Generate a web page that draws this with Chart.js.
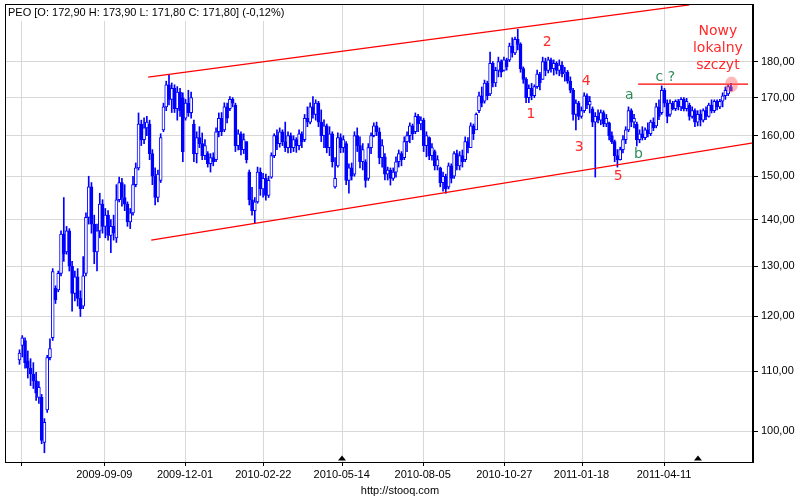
<!DOCTYPE html>
<html>
<head>
<meta charset="utf-8">
<title>PEO</title>
<script src="https://cdn.jsdelivr.net/npm/chart.js@4.4.1/dist/chart.umd.min.js"></script>
<style>
    html, body { margin: 0; padding: 0; background: #fff; }
    canvas { display: block; }
</style>
</head>
<body>
<canvas id="peoChart" width="800" height="500"></canvas>
<script>
// Notowania PEO - swiece (co 2 sesje)
const openPrices = [
    112.0,114.6,115.5,111.8,110.5,109.5,108.3,105.5,105.5,98.2,
    103.4,112.4,116.0,125.5,125.2,128.5,136.8,133.0,137.5,130.0,
    124.5,127.8,123.5,122.0,128.5,140.5,147.5,139.0,133.0,137.5,
    143.5,138.5,141.0,136.5,138.5,136.0,144.5,148.5,145.0,143.5,
    139.5,141.5,148.0,152.0,163.0,159.0,162.0,163.0,155.5,150.0,
    145.0,149.0,161.5,167.5,173.5,169.5,172.5,167.0,171.5,170.0,
    164.5,168.5,166.0,163.0,155.5,159.5,158.0,155.0,155.5,153.0,
    154.5,154.0,161.0,164.5,161.5,167.5,167.0,169.5,168.0,157.5,
    160.5,156.5,158.5,151.0,144.5,142.0,144.0,151.0,147.0,149.5,
    145.5,149.8,155.0,160.0,158.0,161.0,158.5,157.0,160.0,157.0,
    159.0,157.5,160.5,159.0,164.5,163.5,167.5,165.5,168.5,163.5,
    160.0,162.5,157.0,160.5,147.5,152.5,159.5,157.0,158.0,149.0,
    152.0,150.5,160.0,157.5,153.5,153.5,149.5,157.0,160.0,162.5,
    161.0,154.5,154.7,150.5,151.5,149.5,151.0,153.5,155.5,154.5,
    158.5,160.0,162.5,161.0,165.0,163.0,164.0,157.5,159.5,155.0,
    156.0,152.5,152.0,148.5,150.0,147.5,152.5,150.0,155.5,152.5,
    155.0,154.0,158.5,157.0,162.5,161.5,166.5,170.5,169.0,174.0,
    171.0,179.5,174.0,177.5,180.0,177.5,180.5,180.5,184.5,182.5,
    186.5,185.0,178.0,175.0,170.0,172.5,170.5,173.0,176.5,175.0,
    180.0,177.5,180.5,178.0,179.5,177.5,179.0,176.5,177.0,174.5,
    172.0,165.5,168.5,165.0,166.5,170.5,168.0,167.0,163.5,165.0,
    164.0,166.0,163.0,163.3,160.0,158.5,155.0,154.0,156.5,159.0,
    161.5,166.5,163.5,163.0,159.0,160.5,159.5,161.5,160.5,163.5,
    162.5,167.5,166.0,172.0,168.5,165.5,168.5,167.0,169.0,167.5,
    169.5,167.0,168.0,165.0,166.5,163.5,165.5,164.0,166.5,165.0,
    168.0,166.5,169.0,167.5,169.0,170.5,171.0,172.9
];
const highPrices = [
    113.8,116.4,116.0,113.6,112.2,111.5,109.8,108.2,106.0,102.0,
    112.8,115.8,129.5,126.0,129.0,137.5,145.0,138.5,138.0,131.0,
    129.0,129.5,125.0,132.0,141.5,150.0,148.5,141.0,139.0,146.0,
    144.5,142.5,142.0,140.0,141.0,148.0,149.8,149.5,148.0,144.0,
    142.5,150.0,153.2,165.9,164.0,164.6,165.0,164.0,156.5,152.0,
    151.5,160.5,168.5,174.5,176.2,174.0,173.5,173.0,172.5,171.3,
    169.5,172.0,171.5,164.0,161.0,162.3,160.7,159.0,156.0,155.5,
    155.7,162.0,165.9,166.0,168.6,168.5,170.3,170.0,168.5,161.5,
    161.0,160.5,158.5,151.5,147.4,145.0,152.2,152.0,150.7,150.5,
    150.0,155.7,160.5,161.5,162.0,161.5,163.5,161.0,160.7,160.0,
    159.5,161.5,161.0,165.5,167.5,168.6,170.3,169.4,169.0,166.7,
    164.1,163.0,162.3,161.0,154.5,160.7,160.5,160.0,158.5,153.0,
    153.2,161.0,162.0,159.7,158.0,154.0,158.0,160.7,163.3,163.5,
    162.0,159.0,155.5,152.2,152.0,152.0,154.7,156.4,156.0,159.7,
    161.0,163.3,163.0,165.9,165.5,164.9,164.5,161.0,159.7,158.0,
    156.4,155.0,152.2,151.0,150.5,153.2,153.0,156.0,156.4,156.0,
    156.4,159.7,159.5,163.3,163.0,165.9,171.5,172.9,174.8,174.5,
    182.8,180.0,178.4,181.3,180.5,181.3,181.0,185.4,187.0,187.2,
    189.5,185.5,178.5,175.5,173.5,173.9,173.5,177.6,177.0,181.3,
    181.0,181.3,181.0,180.5,180.0,180.5,180.0,178.4,177.5,175.7,
    172.5,169.4,169.0,167.5,171.3,171.0,170.3,167.5,166.0,166.7,
    166.7,166.5,165.5,163.5,161.0,158.9,156.5,157.1,160.0,162.3,
    167.5,167.0,165.5,163.5,161.5,162.3,162.0,163.3,164.0,164.6,
    168.5,169.4,173.2,172.5,169.4,169.4,169.0,169.4,169.5,170.0,
    170.0,169.8,168.5,167.5,167.0,166.5,166.7,167.0,167.5,168.5,
    169.4,169.4,169.4,169.5,171.3,172.9,173.5,173.9
];
const lowPrices = [
    111.2,112.5,110.5,108.8,107.5,107.0,105.0,104.5,98.0,96.6,
    103.0,112.0,115.5,122.5,124.8,128.0,131.0,132.5,129.0,121.0,
    123.0,122.0,120.0,121.5,128.0,139.0,137.0,130.5,129.0,136.0,
    137.0,136.0,135.5,132.8,135.5,135.0,144.0,143.0,142.0,138.5,
    138.0,141.0,147.5,151.5,157.5,158.0,160.0,154.0,148.0,143.3,
    144.0,148.5,161.0,166.5,168.0,166.0,166.0,164.0,165.0,153.5,
    164.0,165.0,164.5,153.5,153.2,157.0,154.0,154.0,152.2,151.0,
    152.5,153.5,159.7,160.0,161.0,163.3,166.5,167.5,156.0,156.4,
    155.2,155.5,153.2,143.3,141.0,139.2,143.7,145.5,145.1,144.4,
    145.0,149.5,154.5,156.5,157.1,157.5,156.0,155.7,155.7,156.0,
    155.8,156.4,157.0,158.5,162.3,163.0,164.5,164.0,162.3,158.5,
    157.0,155.7,155.0,152.2,147.2,152.2,155.7,155.8,148.0,146.0,
    149.1,150.0,156.0,152.0,151.5,147.4,149.0,155.5,159.7,160.0,
    153.0,152.2,149.1,149.1,147.9,149.0,149.8,152.2,152.5,154.0,
    156.0,158.2,159.0,160.5,161.0,161.5,156.0,154.7,154.0,153.9,
    151.5,151.5,147.5,146.5,146.0,147.0,148.4,149.5,151.5,151.5,
    152.2,153.5,155.7,157.0,159.0,161.5,166.0,167.5,168.5,169.4,
    170.5,172.9,173.0,175.7,175.7,177.3,177.6,180.0,181.3,182.0,
    183.4,177.0,173.9,168.6,168.6,169.4,170.0,172.5,172.1,175.0,
    176.0,176.8,177.0,176.2,176.5,176.0,175.7,174.5,173.9,171.3,
    164.0,161.5,164.1,164.5,166.0,167.0,165.9,162.3,149.8,163.3,
    162.8,162.3,162.3,158.9,158.0,153.5,152.2,153.9,155.7,158.0,
    161.0,162.3,162.0,157.4,158.2,158.9,159.0,159.7,160.0,161.3,
    162.0,164.1,165.5,167.5,163.3,165.0,166.7,166.5,166.7,166.5,
    166.4,166.4,164.0,164.5,162.3,162.5,162.5,163.5,164.1,164.8,
    165.9,166.0,166.7,167.0,167.5,169.5,170.5,171.8
];
const closePrices = [
    113.2,116.0,111.5,110.5,109.5,108.3,106.2,107.2,98.5,101.4,
    112.4,114.0,128.9,123.2,128.5,136.8,132.5,137.5,130.0,124.5,
    127.8,123.5,121.5,128.0,140.5,147.5,139.0,133.0,137.5,143.5,
    138.5,141.0,136.5,138.5,137.0,144.5,148.5,145.0,143.5,139.5,
    141.5,148.0,152.0,163.0,159.0,162.0,163.5,155.5,150.0,145.0,
    150.5,159.5,167.5,173.5,169.5,172.5,167.0,171.5,166.5,156.0,
    168.5,166.0,170.0,155.5,159.5,158.0,155.0,157.5,153.0,154.5,
    153.5,161.0,164.5,161.0,167.5,164.5,169.5,168.5,157.5,160.5,
    156.5,159.0,154.0,144.5,142.0,144.0,151.0,147.0,149.5,145.5,
    149.0,155.0,160.0,158.0,161.0,158.5,157.0,160.0,157.0,159.0,
    157.5,160.5,158.5,164.5,163.5,167.5,165.5,168.5,163.5,160.0,
    162.5,157.0,160.5,153.5,149.5,159.5,157.0,159.0,149.0,152.0,
    150.0,160.0,157.5,153.5,156.5,149.0,157.0,160.0,162.5,161.0,
    154.5,157.5,150.5,151.5,149.5,151.0,153.5,155.5,154.0,158.5,
    160.0,162.5,160.5,165.0,163.0,164.0,157.5,160.0,155.0,157.0,
    152.5,154.0,148.5,150.0,147.0,152.5,149.5,155.5,152.5,155.0,
    153.5,158.5,157.0,162.5,160.5,165.5,170.5,168.5,174.0,170.5,
    179.5,174.0,177.5,180.0,177.0,180.5,178.5,184.5,182.5,186.5,
    185.0,178.0,175.0,170.0,172.5,170.5,173.0,176.5,174.0,180.0,
    177.5,180.5,178.0,179.5,177.5,179.0,176.5,177.0,174.5,172.0,
    165.5,168.5,165.0,166.5,170.5,168.0,169.0,163.5,165.0,164.0,
    166.0,163.0,164.5,160.0,158.5,155.0,154.0,156.5,159.0,161.5,
    166.5,163.5,164.5,159.0,160.5,159.5,161.5,160.5,163.5,162.0,
    167.5,165.0,172.0,168.5,165.0,168.5,167.0,169.0,167.5,169.5,
    167.0,169.0,165.0,166.5,163.5,165.5,164.0,166.5,165.0,168.0,
    166.5,169.0,167.5,169.0,170.5,172.0,173.0,171.8
];

// Os X: pozycje (w swiecach) i daty
const dateTickPos = [0.65, 30.64, 59.79, 88.08, 116.4, 145.66, 175.14, 203.03, 232.84];
const dateTickLabels = ['', '2009-09-09', '2009-12-01', '2010-02-22', '2010-05-14', '2010-08-05', '2010-10-27', '2011-01-18', '2011-04-11'];

// Os Y (logarytmiczna)
const priceTicks = [100, 110, 120, 130, 140, 150, 160, 170, 180];

// Linie kanalu i opor [swieca, cena]
const upperLine = [[46.5, 175.6], [242.0, 197.0]];
const lowerLine = [[47.6, 135.5], [265.0, 158.2]];
const peakLine = [[223.5, 173.7], [263.2, 173.7]];

// Oznaczenia fal
const waveTexts = ['1', '2', '3', '4', '5', 'a', 'b', 'c ?'];
const waveX = [184.8, 190.6, 202.2, 204.7, 216.3, 220.3, 223.6, 233.3];
const waveY = [165.4, 185.6, 157.0, 174.4, 149.9, 170.6, 155.2, 175.7];

// Dywidendy (trojkaty przy osi)
const dividendPos = [116.5, 245.1];

const titleText = 'PEO [O: 172,90 H: 173,90 L: 171,80 C: 171,80] (-0,12%)';
const noteLines = ['Nowy', 'lokalny', 'szczyt'];

const BLUE = '#0000ff';
const RED = '#ff2a2a';
const GREEN = '#2e8b57';
const GRID = '#d8d8d8';
const FONT = "'Liberation Sans', Arial, sans-serif";

const indexes = closePrices.map((_, i) => i);

const annotationsPlugin = {
    id: 'annotations',
    afterDatasetsDraw(chart) {
        const ctx = chart.ctx;
        const xs = chart.scales.x;
        const ys = chart.scales.y;
        const area = chart.chartArea;
        const px = v => xs.getPixelForValue(v);
        const py = v => ys.getPixelForValue(v);

        ctx.save();
        ctx.beginPath();
        ctx.rect(area.left, area.top, area.right - area.left, area.bottom - area.top);
        ctx.clip();

        // linie trendu
        ctx.strokeStyle = '#ff0000';
        ctx.lineWidth = 1.3;
        [upperLine, lowerLine, peakLine].forEach(line => {
            ctx.beginPath();
            ctx.moveTo(px(line[0][0]), py(line[0][1]));
            ctx.lineTo(px(line[1][0]), py(line[1][1]));
            ctx.stroke();
        });

        // nowy szczyt - kolko
        const last = closePrices.length - 1;
        ctx.fillStyle = 'rgba(255, 100, 100, 0.45)';
        ctx.beginPath();
        ctx.ellipse(px(last + 0.2), py(173.6), 6.5, 8, 0, 0, Math.PI * 2);
        ctx.fill();

        // fale
        ctx.font = "14px 'DejaVu Sans', sans-serif";
        ctx.textAlign = 'center';
        ctx.textBaseline = 'middle';
        waveTexts.forEach((t, i) => {
            ctx.fillStyle = i < 5 ? RED : GREEN;
            ctx.fillText(t, px(waveX[i]), py(waveY[i]));
        });

        ctx.fillStyle = RED;
        const noteTop = py(189.0);
        noteLines.forEach((t, i) => {
            ctx.fillText(t, px(252.3), noteTop + i * 17);
        });
        ctx.restore();
    },
    afterDraw(chart) {
        const ctx = chart.ctx;
        const xs = chart.scales.x;
        const area = chart.chartArea;
        const top = Math.round(area.top);
        const bottom = Math.round(area.bottom);

        ctx.save();
        // pionowa siatka (pod swiecami) i znaczniki osi X
        dateTickPos.forEach(v => {
            const x = Math.round(xs.getPixelForValue(v));
            ctx.globalCompositeOperation = 'destination-over';
            ctx.fillStyle = GRID;
            ctx.fillRect(x, top + 1, 1, bottom - top - 1);
            ctx.globalCompositeOperation = 'source-over';
            ctx.fillStyle = '#000';
            ctx.fillRect(x, bottom, 1, 4);
        });
        ctx.globalCompositeOperation = 'source-over';

        // ramka
        ctx.strokeStyle = '#000';
        ctx.lineWidth = 1;
        ctx.strokeRect(Math.round(area.left) + 0.5, top + 0.5,
            Math.round(area.right - area.left) - 1, bottom - top);

        // tytul
        ctx.font = '11px ' + FONT;
        const w = ctx.measureText(titleText).width;
        ctx.fillStyle = '#fff';
        ctx.fillRect(area.left + 1, top + 1, w + 6, 16);
        ctx.fillStyle = '#000';
        ctx.textAlign = 'left';
        ctx.textBaseline = 'middle';
        ctx.fillText(titleText, area.left + 3, top + 9);

        // dywidendy
        dividendPos.forEach(d => {
            const x = xs.getPixelForValue(d);
            ctx.beginPath();
            ctx.moveTo(x - 4, bottom - 1.5);
            ctx.lineTo(x + 4, bottom - 1.5);
            ctx.lineTo(x, bottom - 6.5);
            ctx.closePath();
            ctx.fill();
        });

        // stopka
        ctx.textAlign = 'center';
        ctx.fillText('http://stooq.com', 400, 491);
        ctx.restore();
    }
};

// bez dodatkowych marginesow od etykiet skrajnych
function fixPadding(s) {
    s.paddingTop = 0;
    s.paddingBottom = 0;
    s.paddingLeft = 0;
    s.paddingRight = 0;
}

const ctx = document.getElementById('peoChart').getContext('2d');
new Chart(ctx, {
    type: 'bar',
    data: {
        datasets: [
            {
                // korpusy swiec
                data: indexes.map(i => ({ x: i, y: [openPrices[i], closePrices[i]] })),
                backgroundColor: c => closePrices[c.dataIndex] >= openPrices[c.dataIndex] ? '#ffffff' : BLUE,
                borderColor: BLUE,
                borderWidth: 1,
                borderSkipped: false,
                barThickness: 3,
                grouped: false,
                order: 1
            },
            {
                // knoty
                data: indexes.map(i => ({ x: i, y: [lowPrices[i], highPrices[i]] })),
                backgroundColor: BLUE,
                borderWidth: 0,
                barThickness: 1,
                grouped: false,
                order: 2
            }
        ]
    },
    options: {
        responsive: false,
        animation: false,
        layout: { padding: { left: 5, top: 4, right: 0, bottom: 0 } },
        plugins: {
            legend: { display: false },
            tooltip: { enabled: false }
        },
        scales: {
            x: {
                type: 'linear',
                min: -5.24,
                max: 264.98,
                offset: false,
                grid: { display: false, tickLength: 4 },
                border: { color: '#000' },
                ticks: {
                    color: '#000',
                    font: { family: FONT, size: 11 },
                    maxRotation: 0,
                    autoSkip: false,
                    padding: 2,
                    callback: (v, i) => dateTickLabels[i]
                },
                afterBuildTicks: s => { s.ticks = dateTickPos.map(v => ({ value: v })); },
                afterFit: s => { s.height = 38; fixPadding(s); }
            },
            y: {
                type: 'logarithmic',
                position: 'right',
                min: 95.19,
                max: 197.3,
                grid: { color: GRID, tickColor: '#000', tickLength: 5 },
                border: { color: '#000' },
                ticks: {
                    color: '#000',
                    font: { family: FONT, size: 11 },
                    padding: 3,
                    callback: v => v.toFixed(2).replace('.', ',')
                },
                afterBuildTicks: s => { s.ticks = priceTicks.map(v => ({ value: v })); },
                afterFit: s => { s.width = 47; fixPadding(s); }
            }
        }
    },
    plugins: [annotationsPlugin]
});
</script>
</body>
</html>
